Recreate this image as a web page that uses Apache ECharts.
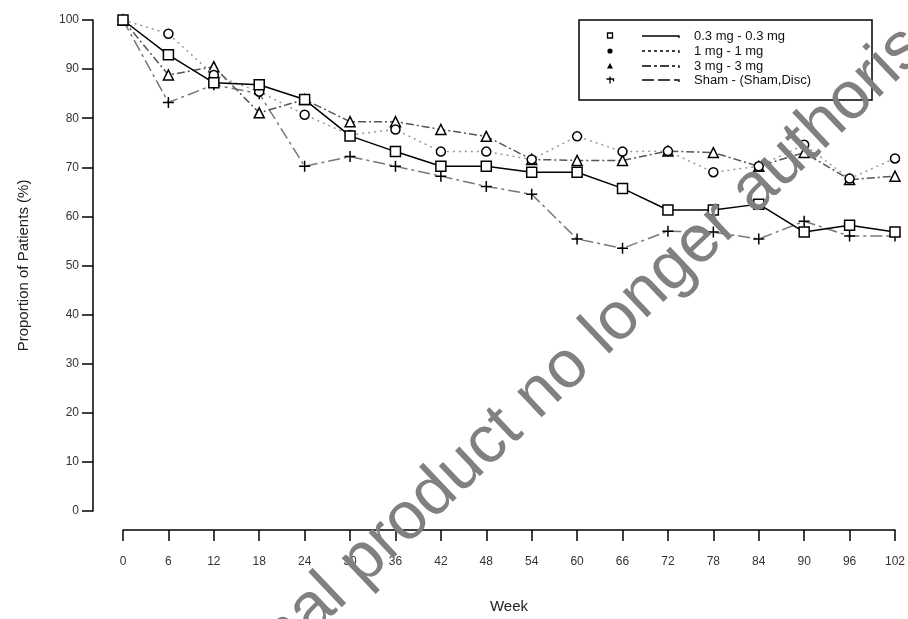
<!DOCTYPE html>
<html>
<head>
<meta charset="utf-8">
<script src="https://cdn.jsdelivr.net/npm/echarts@6/dist/echarts.min.js"></script>
<style>
html,body{margin:0;padding:0;background:#fff;}
#chart{width:908px;height:619px;}
</style>
</head>
<body>
<div id="chart"></div>
<script>
var weeks = [0, 6, 12, 18, 24, 30, 36, 42, 48, 54, 60, 66, 72, 78, 84, 90, 96, 102];
var seriesNames = ['0.3 mg - 0.3 mg', '1 mg - 1 mg', '3 mg - 3 mg', 'Sham - (Sham,Disc)'];
var dose03 = [100, 92.9, 87.2, 86.8, 83.8, 76.4, 73.2, 70.2, 70.2, 69.0, 69.0, 65.7, 61.3, 61.3, 62.5, 56.8, 58.2, 56.8];
var dose1  = [100, 97.2, 88.8, 85.4, 80.7, 76.6, 77.7, 73.2, 73.2, 71.6, 76.3, 73.2, 73.3, 69.0, 70.2, 74.6, 67.7, 71.8];
var dose3  = [100, 88.8, 90.5, 81.1, 83.8, 79.3, 79.3, 77.7, 76.3, 71.6, 71.4, 71.4, 73.3, 73.0, 70.2, 73.0, 67.5, 68.2];
var sham   = [100, 83.2, 86.8, 85.0, 70.2, 72.2, 70.2, 68.2, 66.1, 64.5, 55.4, 53.5, 57.0, 56.8, 55.4, 59.0, 56.0, 56.0];
var watermark = 'Medicinal product no longer authorised';

function pairs(vals) { return weeks.map(function (w, i) { return [w, vals[i]]; }); }

var FONT = '"Liberation Sans", Arial, sans-serif';
var plusPath = 'path://M5,0L5,10M0,5L10,5';

var chart = echarts.init(document.getElementById('chart'), null, {renderer: 'canvas'});

function mkSeries(name, vals, symbol, size, color, type, z) {
  return {
    name: name, type: 'line', data: pairs(vals), z: z,
    symbol: symbol, symbolSize: size, showAllSymbol: true,
    lineStyle: {color: color, width: 1.5, type: type},
    itemStyle: {color: '#fff', borderColor: '#000', borderWidth: 1.5},
    emphasis: {disabled: true}, animation: false
  };
}

var legendX = 579, legendY = 20;
var rowY = [36, 51, 66, 80];
var lineTypes = [[], [3, 3], [9, 3, 3, 3], [12, 4]];
var legendGraphics = [
  {type: 'rect', shape: {x: legendX, y: legendY, width: 293, height: 80},
   style: {fill: '#fff', stroke: '#000', lineWidth: 1.5}, z: 50}
];
legendGraphics.push({type: 'rect', shape: {x: 607.5, y: rowY[0] - 3, width: 5, height: 5}, style: {fill: '#fff', stroke: '#000', lineWidth: 1.3}, z: 51});
legendGraphics.push({type: 'circle', shape: {cx: 610, cy: rowY[1], r: 2.6}, style: {fill: '#000'}, z: 51});
legendGraphics.push({type: 'polygon', shape: {points: [[610, rowY[2] - 3], [613, rowY[2] + 2.5], [607, rowY[2] + 2.5]]}, style: {fill: '#000'}, z: 51});
legendGraphics.push({type: 'polyline', shape: {points: [[610, rowY[3] - 3.5], [610, rowY[3] + 3.5]]}, style: {stroke: '#000', lineWidth: 1.3}, z: 51});
legendGraphics.push({type: 'polyline', shape: {points: [[606.5, rowY[3] - 1], [613.5, rowY[3] - 1], [613.5, rowY[3] + 1.5]]}, style: {stroke: '#000', lineWidth: 1.3}, z: 51});
for (var i = 0; i < 4; i++) {
  legendGraphics.push({type: 'polyline', shape: {points: [[642, rowY[i]], [679, rowY[i]], [679, rowY[i] + 2]]},
    style: {stroke: '#000', lineWidth: 1.3, lineDash: lineTypes[i].length ? lineTypes[i] : null, fill: null}, z: 51});
  legendGraphics.push({type: 'text', x: 694, y: rowY[i],
    style: {text: seriesNames[i], font: '13px ' + FONT, fill: '#111', textAlign: 'left', textVerticalAlign: 'middle'}, z: 51});
}
legendGraphics.push({type: 'text', x: 550, y: 384, rotation: 0.759, z: 100,
  style: {text: watermark, font: '67px ' + FONT, fill: '#808080', textAlign: 'center', textVerticalAlign: 'middle'}});

chart.setOption({
  animation: false,
  backgroundColor: '#fff',
  grid: {left: 123, right: 13, top: 20, bottom: 103, containLabel: false},
  xAxis: {
    type: 'value', min: 0, max: 102, interval: 6, offset: 19,
    name: 'Week', nameLocation: 'middle', nameGap: 69,
    nameTextStyle: {fontFamily: FONT, fontSize: 15, color: '#222'},
    axisLine: {show: true, onZero: false, lineStyle: {color: '#000', width: 1.5}},
    axisTick: {show: true, length: 11, lineStyle: {color: '#000', width: 1.5}},
    axisLabel: {fontFamily: FONT, fontSize: 12, color: '#333', margin: 26},
    splitLine: {show: false}
  },
  yAxis: {
    type: 'value', min: 0, max: 100, interval: 10, offset: 30,
    name: 'Proportion of Patients (%)', nameLocation: 'middle', nameGap: 62,
    nameTextStyle: {fontFamily: FONT, fontSize: 15, color: '#222'},
    axisLine: {show: true, onZero: false, lineStyle: {color: '#000', width: 1.5}},
    axisTick: {show: true, length: 11, lineStyle: {color: '#000', width: 1.5}},
    axisLabel: {fontFamily: FONT, fontSize: 12, color: '#333', margin: 14},
    splitLine: {show: false}
  },
  series: [
    mkSeries(seriesNames[3], sham, plusPath, 11, '#777', [12, 4, 3, 4], 2),
    mkSeries(seriesNames[2], dose3, 'triangle', 10, '#555', [8, 3, 2, 3], 3),
    mkSeries(seriesNames[1], dose1, 'circle', 9, '#999', [2, 4], 4),
    mkSeries(seriesNames[0], dose03, 'rect', 10, '#000', 'solid', 5)
  ],
  graphic: legendGraphics
});
</script>
</body>
</html>
